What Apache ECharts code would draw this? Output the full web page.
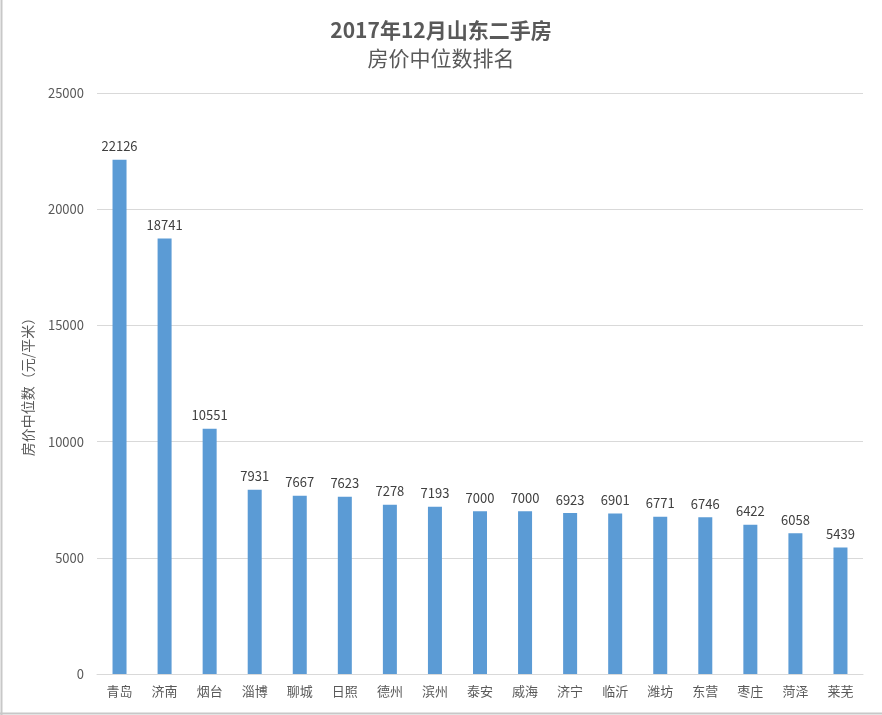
<!DOCTYPE html>
<html><head><meta charset="utf-8">
<script src="https://cdn.jsdelivr.net/npm/echarts@6/dist/echarts.min.js"></script>
<style>html,body{margin:0;padding:0;background:#fff}#c{width:882px;height:715px}</style>
</head><body><div id="c"></div>
<script>
const titleLines = ['2017年12月山东二手房', '房价中位数排名'];
const yAxisName = '房价中位数（元/平米）';
const categories = ['青岛','济南','烟台','淄博','聊城','日照','德州','滨州','泰安','威海','济宁','临沂','潍坊','东营','枣庄','菏泽','莱芜'];
const values = [22126,18741,10551,7931,7667,7623,7278,7193,7000,7000,6923,6901,6771,6746,6422,6058,5439];
const yMin = 0, yMax = 25000, yStep = 5000;

const chart = echarts.init(document.getElementById('c'));
const font = '"Microsoft YaHei","Noto Sans CJK SC","Noto Sans",sans-serif';
chart.setOption({
  animation:false,
  backgroundColor:'#fff',
  title:{
    text: '{a|' + titleLines[0] + '}\n{b|' + titleLines[1] + '}',
    left:'center', top:11,
    textStyle:{
      rich:{
        a:{fontSize:21, fontWeight:'bold', color:'#595959', fontFamily:font, lineHeight:28},
        b:{fontSize:21, fontWeight:'normal', color:'#595959', fontFamily:font, lineHeight:28}
      }
    }
  },
  grid:{left:97, right:19, top:93, bottom:41},
  xAxis:{
    type:'category', data:categories,
    axisLine:{lineStyle:{color:'#d9d9d9'}},
    axisTick:{show:false},
    axisLabel:{color:'#595959', fontSize:13, fontFamily:font, margin:11}
  },
  yAxis:{
    type:'value', min:yMin, max:yMax, interval:yStep,
    name:yAxisName, nameLocation:'middle', nameGap:62, nameRotate:90,
    nameTextStyle:{color:'#595959', fontSize:14, fontFamily:font},
    axisLine:{show:false}, axisTick:{show:false},
    axisLabel:{color:'#595959', fontSize:13, fontFamily:font, margin:13, formatter:v=>String(v)},
    splitLine:{lineStyle:{color:'#d9d9d9'}}
  },
  graphic:[
    {type:'line', shape:{x1:1.5,y1:0,x2:1.5,y2:715}, style:{stroke:'#c8c8c8', lineWidth:2}},
    {type:'line', shape:{x1:0,y1:713.5,x2:882,y2:713.5}, style:{stroke:'#c8c8c8', lineWidth:2}}
  ],
  series:[{
    type:'bar', data:values, barWidth:14,
    itemStyle:{color:'#5b9bd5'},
    label:{show:true, position:'top', distance:7, color:'#404040', fontSize:13, fontFamily:font}
  }]
});
</script></body></html>
